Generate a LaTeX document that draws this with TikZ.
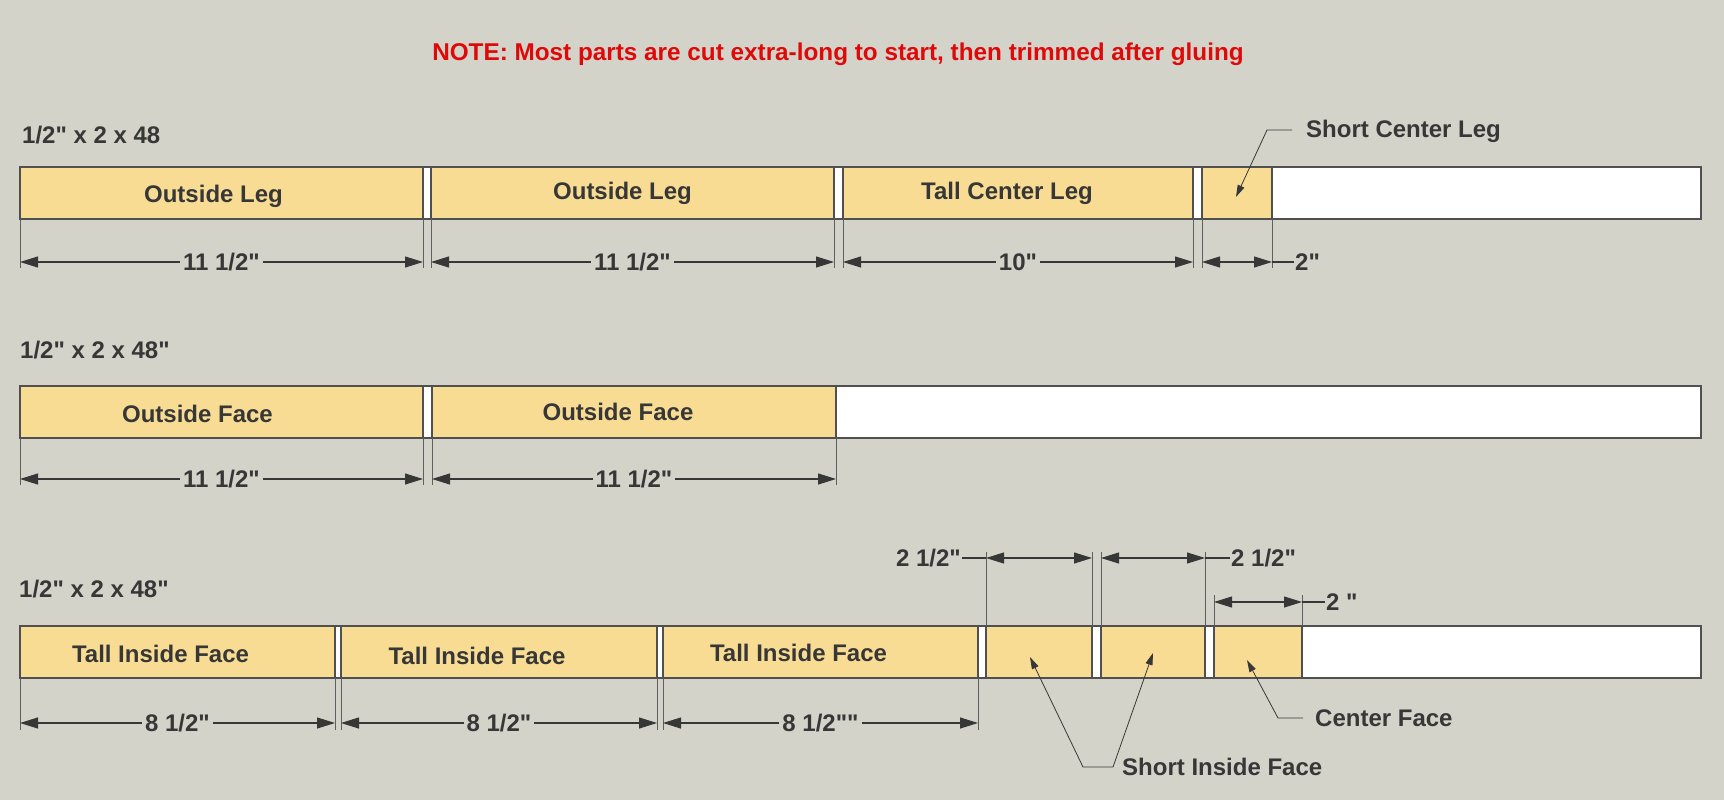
\documentclass[tikz,border=0pt]{standalone}
\usepackage{fontspec}
\setmainfont{Liberation Sans}[Ligatures=TeXOff]
\usetikzlibrary{arrows.meta, positioning}

\definecolor{bgcol}{RGB}{212,211,202}
\definecolor{wood}{RGB}{248,220,148}
\definecolor{ink}{RGB}{55,55,55}
\definecolor{edgecol}{RGB}{80,80,80}
\definecolor{notered}{RGB}{222,10,10}

\tikzset{
    stock/.style={draw=edgecol, line width=1.5pt, fill=white, anchor=north west,
        minimum height=52pt, inner sep=0pt, outer sep=0pt},
    piece/.style={stock, fill=wood},
    parttext/.style={font=\bfseries\fontsize{24}{28}\selectfont, text=ink, inner sep=1pt},
    dimtext/.style={parttext, fill=bgcol, inner xsep=3pt},
    extline/.style={draw=ink!80, line width=0.8pt},
    dimline/.style={draw=ink, line width=1.1pt,
        {Triangle[length=18pt, width=11pt]}-{Triangle[length=18pt, width=11pt]}},
    tailline/.style={draw=ink, line width=1.1pt},
    leader/.style={draw=ink, line width=0.8pt, -{Triangle[length=12pt, width=7pt]}},
}

\begin{document}
\begin{tikzpicture}[x=1pt, y=-1pt]
    % page and background
    \fill[bgcol] (0,0) rectangle (1724,800);

    % Note at top
    \node[parttext, text=notered, font=\bfseries\fontsize{24.3}{28}\selectfont] (note) at (838,54)
        {NOTE: Most parts are cut extra-long to start, then trimmed after gluing};

    % ---- Board 1 ----
    \node[stock, minimum width=1681pt] (s1) at (20,167) {};
    \node[parttext, above right=22pt and 1pt of s1.north west] (s1lab) {1/2" x 2 x 48};
    \node[piece, minimum width=403pt] (ol1) at (20,167) {};
    \node[piece, minimum width=403pt] (ol2) at (431,167) {};
    \node[piece, minimum width=350pt] (tcl) at (843,167) {};
    \node[piece, minimum width=70pt] (scl) at (1202,167) {};
    \node[parttext] (ol1txt) at ([xshift=-8pt, yshift=-3pt]ol1.center) {Outside Leg};
    \node[parttext] (ol2txt) at ([xshift=-10pt]ol2.center) {Outside Leg};
    \node[parttext] (tcltxt) at ([xshift=-11pt]tcl.center) {Tall Center Leg};

    \foreach \p in {ol1, ol2, tcl, scl} {
        \draw[extline] (\p.south west) -- ++(0,49);
        \draw[extline] (\p.south east) -- ++(0,49);
    }
    \draw[dimline] ([yshift=-43pt]ol1.south west) -- node[dimtext] (d1) {11 1/2"} ([yshift=-43pt]ol1.south east);
    \draw[dimline] ([yshift=-43pt]ol2.south west) -- node[dimtext] (d2) {11 1/2"} ([yshift=-43pt]ol2.south east);
    \draw[dimline] ([yshift=-43pt]tcl.south west) -- node[dimtext] (d3) {10"} ([yshift=-43pt]tcl.south east);
    \draw[dimline] ([yshift=-43pt]scl.south west) -- ([yshift=-43pt]scl.south east) coordinate (d4end);
    \node[parttext, anchor=west] (d4) at ([xshift=22pt]d4end) {2"};
    \draw[tailline] (d4end) -- (d4.west);

    % Short center leg callout
    \node[parttext, anchor=west] (scllab) at (1305,131) {Short Center Leg};
    \coordinate (sclbend) at (1267,130);
    \draw[leader] ([xshift=-13pt, yshift=1pt]scllab.west) -- (sclbend) -- ([xshift=-1pt, yshift=-4pt]scl.center);

    % ---- Board 2 ----
    \node[stock, minimum width=1681pt] (s2) at (20,386) {};
    \node[parttext, above right=26pt and -1pt of s2.north west] (s2lab) {1/2" x 2 x 48"};
    \node[piece, minimum width=403pt] (of1) at (20,386) {};
    \node[piece, minimum width=404pt] (of2) at (432,386) {};
    \node[parttext] (of1txt) at ([xshift=-24pt, yshift=-2pt]of1.center) {Outside Face};
    \node[parttext] (of2txt) at ([xshift=-16pt]of2.center) {Outside Face};

    \foreach \p in {of1, of2} {
        \draw[extline] (\p.south west) -- ++(0,47);
        \draw[extline] (\p.south east) -- ++(0,47);
    }
    \draw[dimline] ([yshift=-41pt]of1.south west) -- node[dimtext] (d5) {11 1/2"} ([yshift=-41pt]of1.south east);
    \draw[dimline] ([yshift=-41pt]of2.south west) -- node[dimtext] (d6) {11 1/2"} ([yshift=-41pt]of2.south east);

    % ---- Board 3 ----
    \node[stock, minimum width=1681pt] (s3) at (20,626) {};
    \node[parttext, above right=27pt and -2pt of s3.north west] (s3lab) {1/2" x 2 x 48"};
    \node[piece, minimum width=315pt] (tif1) at (20,626) {};
    \node[piece, minimum width=316pt] (tif2) at (341,626) {};
    \node[piece, minimum width=315pt] (tif3) at (663,626) {};
    \node[piece, minimum width=106pt] (sif1) at (986,626) {};
    \node[piece, minimum width=104pt] (sif2) at (1101,626) {};
    \node[piece, minimum width=88pt] (cf) at (1214,626) {};
    \node[parttext] (tif1txt) at ([xshift=-17pt, yshift=-2pt]tif1.center) {Tall Inside Face};
    \node[parttext] (tif2txt) at ([xshift=-22pt, yshift=-4pt]tif2.center) {Tall Inside Face};
    \node[parttext] (tif3txt) at ([xshift=-22pt, yshift=-1pt]tif3.center) {Tall Inside Face};

    \foreach \p in {tif1, tif2, tif3} {
        \draw[extline] (\p.south west) -- ++(0,52);
        \draw[extline] (\p.south east) -- ++(0,52);
    }
    \draw[dimline] ([yshift=-45pt]tif1.south west) -- node[dimtext] (d7) {8 1/2"} ([yshift=-45pt]tif1.south east);
    \draw[dimline] ([yshift=-45pt]tif2.south west) -- node[dimtext] (d8) {8 1/2"} ([yshift=-45pt]tif2.south east);
    \draw[dimline] ([yshift=-45pt]tif3.south west) -- node[dimtext] (d9) {8 1/2""} ([yshift=-45pt]tif3.south east);

    % upper dimensions
    \foreach \p in {sif1, sif2} {
        \draw[extline] (\p.north west) -- ++(0,-74);
        \draw[extline] (\p.north east) -- ++(0,-74);
    }
    \draw[extline] (cf.north west) -- ++(0,-31);
    \draw[extline] (cf.north east) -- ++(0,-31);
    \draw[dimline] ([yshift=68pt]sif1.north west) coordinate (d10beg) -- ([yshift=68pt]sif1.north east);
    \draw[dimline] ([yshift=68pt]sif2.north west) -- ([yshift=68pt]sif2.north east) coordinate (d11end);
    \draw[dimline] ([yshift=24pt]cf.north west) -- ([yshift=24pt]cf.north east) coordinate (d12end);
    \node[parttext, anchor=east] (d10) at ([xshift=-24pt]d10beg) {2 1/2"};
    \node[parttext, anchor=west] (d11) at ([xshift=25pt]d11end) {2 1/2"};
    \node[parttext, anchor=west] (d12) at ([xshift=23pt]d12end) {2 "};
    \draw[tailline] (d10.east) -- (d10beg);
    \draw[tailline] (d11end) -- (d11.west);
    \draw[tailline] (d12end) -- (d12.west);

    % callouts
    \node[parttext, anchor=west] (cflab) at (1314,718) {Center Face};
    \coordinate (cfbend) at (1278,718);
    \draw[leader] ([xshift=-11pt]cflab.west) -- (cfbend) -- ([xshift=-11pt, yshift=-8pt]cf.center);

    \node[parttext, anchor=west] (siflab) at (1121,767) {Short Inside Face};
    \coordinate (sifbendA) at (1083,767);
    \coordinate (sifbendB) at (1113,767);
    \draw[leader] (sifbendB) -- (sifbendA) -- ([xshift=-9pt, yshift=-5pt]sif1.center);
    \draw[leader] (sifbendB) -- ([yshift=-1pt]sif2.center);
\end{tikzpicture}
\end{document}
